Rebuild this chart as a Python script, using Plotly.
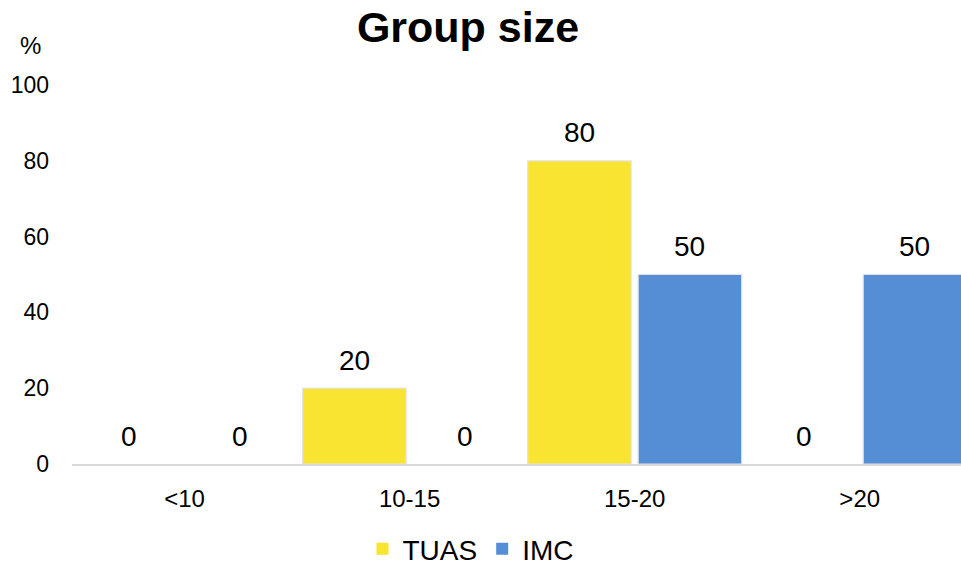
import plotly.graph_objects as go

categories = ["<10", "10-15", "15-20", ">20"]
tuas = [0, 20, 80, 0]
imc = [0, 0, 50, 50]
series_names = ["TUAS", "IMC"]
y_ticks = [0, 20, 40, 60, 80, 100]

YELLOW = "#F8E431"
BLUE = "#558ED5"
FONT = "Liberation Sans, Arial, sans-serif"
BARGAP = 0.018

fig = go.Figure()
for i, (name, vals, color) in enumerate([(series_names[0], tuas, YELLOW),
                                         (series_names[1], imc, BLUE)]):
    fig.add_trace(go.Bar(
        name=name, x=categories, y=vals,
        marker=dict(color=color,
                    line=dict(color="#e3e3e3", width=[1.2 if v > 0 else 0 for v in vals])),
        offsetgroup=str(i),
    ))

# value labels sit above each bar, one per bar, taken from the same arrays
slot = (1 - BARGAP) / 2
labels = []
for i, vals in enumerate([tuas, imc]):
    offset = (i - 0.5) * slot
    for j, v in enumerate(vals):
        labels.append(dict(x=j + offset, y=v, xref="x", yref="y", text=str(v),
                           showarrow=False, yanchor="middle", yshift=28,
                           font=dict(size=28, family=FONT, color="#000000")))

labels.append(dict(text="%", xref="paper", x=0, xshift=-42, yref="paper", y=1,
                   yshift=40, showarrow=False, font=dict(size=24, family=FONT),
                   xanchor="center", yanchor="middle"))

fig.update_layout(
    width=961, height=566,
    margin=dict(l=72, r=0, t=85, b=102),
    paper_bgcolor="white", plot_bgcolor="white",
    font=dict(family=FONT, color="#000000"),
    barmode="group", bargap=BARGAP, bargroupgap=0.063,
    title=dict(text="<b>Group size</b>", x=468 / 961, xref="container", xanchor="center",
               y=1 - 27 / 566, yref="container", yanchor="middle",
               font=dict(size=43, family=FONT, color="#000000")),
    showlegend=True,
    legend=dict(orientation="h", x=471 / 961, xanchor="center", xref="container",
                y=1 - 549 / 566, yref="container", yanchor="middle",
                font=dict(size=28, family=FONT), itemwidth=30,
                traceorder="normal"),
    xaxis=dict(range=[-0.5, 3.45], showgrid=False, showline=True, linecolor="#d9d9d9",
               linewidth=1.5, ticks="", tickfont=dict(size=24), ticklabelstandoff=12),
    yaxis=dict(range=[0, 100], tickvals=y_ticks, showgrid=False, zeroline=False,
               showline=False, ticks="", tickfont=dict(size=23), ticklabelstandoff=22),
    annotations=labels,
)

fig.write_html("out.html")
